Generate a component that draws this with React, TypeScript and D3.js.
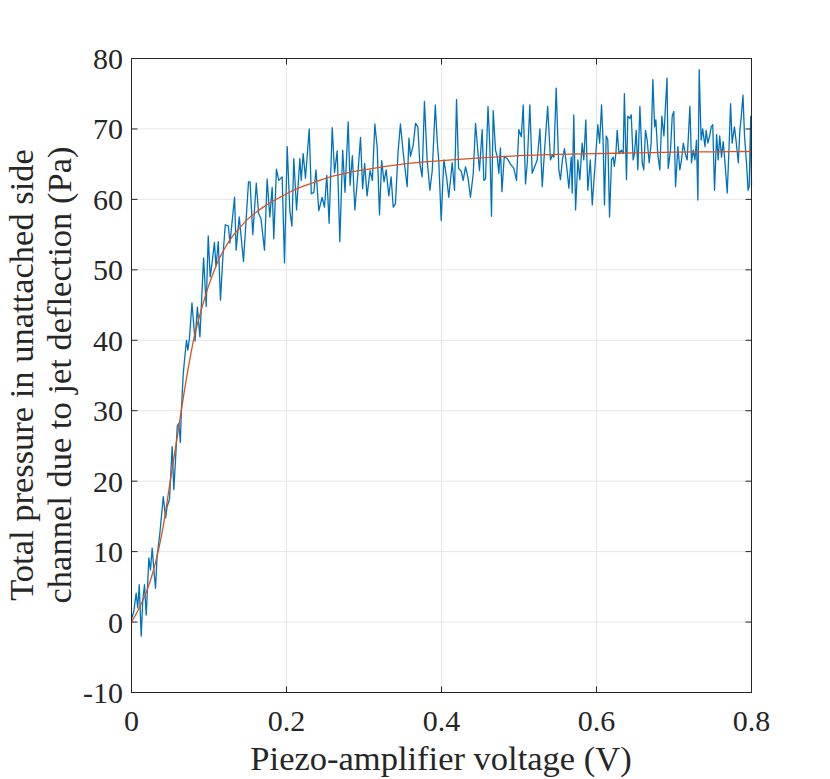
import * as d3 from 'd3';

const measured: [number, number][] = [
  [0.000, 0.4], [0.003, 1.5], [0.006, 4.1], [0.008, 2.0], [0.010, 5.3], [0.0125, -2.0],
  [0.0146, 3.2], [0.0168, 5.3], [0.019, 1.0], [0.0224, 9.1], [0.0245, 7.4], [0.0267, 10.5],
  [0.029, 7.2], [0.031, 4.8], [0.033, 9.3], [0.0366, 12.6], [0.041, 17.8], [0.044, 14.8],
  [0.046, 16.4], [0.049, 17.4], [0.0525, 24.9], [0.0546, 18.8], [0.0568, 23.0], [0.059, 27.8],
  [0.061, 28.2], [0.063, 25.5], [0.0645, 30.4], [0.0667, 35.1], [0.0684, 37.2], [0.071, 40.0],
  [0.0727, 38.6], [0.0748, 40.3], [0.078, 45.3], [0.082, 39.9], [0.085, 44.7], [0.0883, 40.5],
  [0.093, 51.7], [0.0964, 44.8], [0.099, 54.8], [0.1015, 49.0], [0.104, 51.0], [0.107, 53.9],
  [0.109, 50.5], [0.112, 54.0], [0.1148, 45.7], [0.118, 52.0], [0.121, 56.4], [0.125, 56.2],
  [0.127, 53.8], [0.133, 60.3], [0.135, 52.8], [0.139, 57.5], [0.1445, 51.2], [0.151, 62.5],
  [0.153, 62.5], [0.1565, 55.0], [0.161, 62.3], [0.164, 58.0], [0.167, 57.3], [0.1716, 52.8],
  [0.175, 62.9], [0.1785, 57.5], [0.1815, 61.7], [0.1836, 54.4], [0.187, 64.3], [0.190, 62.7],
  [0.1944, 63.2], [0.1974, 51.0], [0.2009, 67.5], [0.2043, 58.4], [0.207, 56.2], [0.2094, 65.8],
  [0.213, 58.5], [0.2172, 65.8], [0.219, 62.7], [0.2215, 66.5], [0.2245, 63.0], [0.2293, 70.0],
  [0.232, 60.8], [0.2353, 61.0], [0.238, 64.2], [0.2417, 58.4], [0.246, 60.3], [0.249, 58.9],
  [0.252, 63.4], [0.255, 56.6], [0.259, 70.2], [0.262, 63.8], [0.2654, 66.9], [0.2688, 54.0],
  [0.2725, 67.0], [0.2755, 61.0], [0.2796, 71.0], [0.282, 62.0], [0.285, 66.2], [0.2882, 58.5],
  [0.292, 63.5], [0.2955, 68.8], [0.2982, 61.5], [0.3008, 65.1], [0.304, 60.5], [0.3078, 64.1],
  [0.3108, 62.7], [0.314, 70.7], [0.317, 67.4], [0.320, 57.8], [0.3228, 65.5], [0.3258, 62.5],
  [0.3286, 64.2], [0.332, 60.5], [0.335, 63.2], [0.3377, 58.9], [0.3406, 59.4], [0.344, 66.8],
  [0.347, 70.7], [0.349, 68.4], [0.352, 65.2], [0.3557, 61.8], [0.358, 68.7], [0.360, 66.1],
  [0.3635, 67.7], [0.3665, 70.8], [0.3695, 70.3], [0.372, 65.1], [0.375, 63.2], [0.378, 73.9],
  [0.3815, 65.6], [0.385, 61.3], [0.388, 64.0], [0.392, 73.4], [0.3944, 68.4], [0.3965, 65.4],
  [0.3996, 57.0], [0.403, 65.6], [0.4065, 63.2], [0.4094, 60.3], [0.4138, 65.2], [0.4168, 61.3],
  [0.4194, 74.2], [0.422, 64.4], [0.4254, 64.0], [0.428, 62.7], [0.431, 64.6], [0.434, 63.2],
  [0.4374, 60.3], [0.441, 63.7], [0.4439, 70.8], [0.446, 68.0], [0.449, 64.1], [0.4525, 69.9],
  [0.4546, 62.7], [0.4568, 62.9], [0.460, 73.2], [0.4624, 67.5], [0.4645, 57.6], [0.4667, 72.6],
  [0.4697, 67.0], [0.472, 66.0], [0.474, 63.7], [0.476, 67.3], [0.478, 61.1], [0.481, 66.1],
  [0.4848, 65.8], [0.489, 65.0], [0.4933, 64.4], [0.4968, 62.7], [0.4998, 69.9], [0.503, 68.9],
  [0.5054, 73.4], [0.5084, 62.2], [0.5106, 65.1], [0.514, 73.4], [0.517, 63.7], [0.520, 64.6],
  [0.5235, 65.6], [0.527, 70.0], [0.530, 61.8], [0.533, 67.0], [0.537, 73.2], [0.5406, 65.6],
  [0.543, 66.3], [0.545, 66.0], [0.548, 75.8], [0.5514, 64.2], [0.5535, 62.8], [0.556, 65.6],
  [0.5587, 67.2], [0.562, 64.2], [0.5643, 61.6], [0.5674, 66.0], [0.5686, 60.9], [0.5707, 72.0],
  [0.573, 58.5], [0.576, 65.6], [0.5785, 62.8], [0.5815, 68.0], [0.5836, 65.6], [0.5862, 71.3],
  [0.5888, 61.3], [0.592, 65.6], [0.5945, 59.2], [0.5987, 65.8], [0.6017, 70.6], [0.604, 68.0],
  [0.6065, 73.4], [0.6086, 68.0], [0.6103, 59.2], [0.6125, 69.0], [0.6146, 68.5], [0.6168, 57.5],
  [0.6194, 65.6], [0.6215, 66.0], [0.623, 64.7], [0.625, 66.5], [0.6267, 69.8], [0.629, 66.5],
  [0.632, 67.0], [0.6345, 66.5], [0.636, 75.0], [0.6387, 62.8], [0.6404, 71.8], [0.643, 71.5],
  [0.6448, 72.0], [0.6473, 65.6], [0.649, 66.5], [0.6512, 69.8], [0.6533, 64.2], [0.656, 73.2],
  [0.659, 65.2], [0.661, 64.2], [0.6632, 69.8], [0.6654, 68.4], [0.668, 65.2], [0.6705, 67.9],
  [0.6727, 77.0], [0.675, 70.3], [0.6766, 71.3], [0.679, 66.5], [0.6817, 64.2], [0.6843, 71.8],
  [0.687, 69.0], [0.689, 73.2], [0.691, 77.2], [0.6925, 64.4], [0.6955, 67.0], [0.6977, 71.8],
  [0.6997, 72.5], [0.702, 61.8], [0.705, 67.5], [0.7075, 64.2], [0.7097, 65.6], [0.712, 68.0],
  [0.7145, 66.5], [0.717, 65.6], [0.7205, 73.2], [0.7226, 65.2], [0.7248, 67.0], [0.727, 65.6],
  [0.729, 68.4], [0.7308, 59.9], [0.7325, 78.4], [0.735, 68.4], [0.737, 70.0], [0.740, 67.5],
  [0.7415, 69.8], [0.7437, 68.0], [0.746, 69.0], [0.748, 70.3], [0.750, 70.6], [0.7523, 61.3],
  [0.755, 69.2], [0.757, 65.6], [0.759, 69.0], [0.7613, 66.0], [0.7635, 68.2], [0.7655, 65.6],
  [0.7687, 60.9], [0.771, 67.3], [0.773, 73.6], [0.775, 68.0], [0.778, 70.3], [0.780, 68.4],
  [0.783, 65.2], [0.785, 69.8], [0.787, 72.0], [0.789, 74.8], [0.791, 69.0], [0.7935, 65.2],
  [0.7956, 61.3], [0.797, 61.8], [0.799, 71.8], [0.800, 62.0],
];

// fitted curve
const fitVoltage = [0, 0.01, 0.02, 0.03, 0.04, 0.05, 0.06, 0.07, 0.08, 0.09, 0.1, 0.11, 0.12, 0.13,
  0.14, 0.15, 0.16, 0.17, 0.18, 0.19, 0.2, 0.22, 0.24, 0.26, 0.28, 0.3, 0.35, 0.4, 0.45, 0.5,
  0.55, 0.6, 0.65, 0.7, 0.75, 0.8];
const fitPressure = [0, 2, 4.5, 8, 13, 20, 27, 34, 40, 44.3, 47.9, 50.8, 53, 54.7,
  56, 57.2, 58.1, 58.9, 59.6, 60.2, 60.8, 61.8, 62.6, 63.3, 63.8, 64.2, 65.0, 65.5, 65.9, 66.2,
  66.4, 66.5, 66.6, 66.7, 66.75, 66.8];

const xTicks = [0, 0.2, 0.4, 0.6, 0.8];
const yTicks = [-10, 0, 10, 20, 30, 40, 50, 60, 70, 80];

const W = 830;
const H = 779;
const left = 131.5;
const right = 751.5;
const top = 58.5;
const bottom = 692.5;
const ink = '#262626';
const font = '"Liberation Serif", "Times New Roman", serif';

export default function App() {
  const x = d3.scaleLinear().domain([0, 0.8]).range([left, right]);
  const y = d3.scaleLinear().domain([-10, 80]).range([bottom, top]);

  const dataLine = d3.line<[number, number]>()
    .x(d => x(d[0]))
    .y(d => y(d[1]));

  const fitLine = d3.line<number>()
    .x((_, i) => x(fitVoltage[i]))
    .y(d => y(d))
    .curve(d3.curveMonotoneX);

  const tickLen = 6;

  return (
    <svg width={W} height={H} style={{ position: 'absolute', left: 0, top: 0, background: '#fff' }}>
      <rect x={0} y={0} width={W} height={H} fill="#fff" />
      {/* grid */}
      {xTicks.map(t => (
        <line key={'gx' + t} x1={x(t)} x2={x(t)} y1={top} y2={bottom} stroke="#e6e6e6" strokeWidth={1} />
      ))}
      {yTicks.map(t => (
        <line key={'gy' + t} x1={left} x2={right} y1={y(t)} y2={y(t)} stroke="#e6e6e6" strokeWidth={1} />
      ))}

      <path d={dataLine(measured) || ''} fill="none" stroke="#0072BD" strokeWidth={1.3} strokeLinejoin="round" />
      <path d={fitLine(fitPressure) || ''} fill="none" stroke="#D95319" strokeWidth={1.3} />

      {/* box and inward ticks */}
      <rect x={left} y={top} width={right - left} height={bottom - top} fill="none" stroke={ink} strokeWidth={1} />
      {xTicks.map(t => (
        <g key={'tx' + t}>
          <line x1={x(t)} x2={x(t)} y1={bottom} y2={bottom - tickLen} stroke={ink} />
          <line x1={x(t)} x2={x(t)} y1={top} y2={top + tickLen} stroke={ink} />
          <text x={x(t)} y={731} textAnchor="middle" fontFamily={font} fontSize={30} fill={ink}>
            {t === 0 ? '0' : d3.format('.1f')(t)}
          </text>
        </g>
      ))}
      {yTicks.map(t => (
        <g key={'ty' + t}>
          <line x1={left} x2={left + tickLen} y1={y(t)} y2={y(t)} stroke={ink} />
          <line x1={right} x2={right - tickLen} y1={y(t)} y2={y(t)} stroke={ink} />
          <text x={123} y={y(t) + 10.5} textAnchor="end" fontFamily={font} fontSize={30} fill={ink}>
            {t}
          </text>
        </g>
      ))}

      <text x={441} y={770} textAnchor="middle" fontFamily={font} fontSize={34.5} fill={ink}>
        Piezo-amplifier voltage (V)
      </text>
      <g transform={`translate(0, 375) rotate(-90)`}>
        <text x={0} y={33} textAnchor="middle" fontFamily={font} fontSize={34.5} fill={ink}>
          Total pressure in unattached side
        </text>
        <text x={0} y={71} textAnchor="middle" fontFamily={font} fontSize={34.5} fill={ink}>
          channel due to jet deflection (Pa)
        </text>
      </g>
    </svg>
  );
}
